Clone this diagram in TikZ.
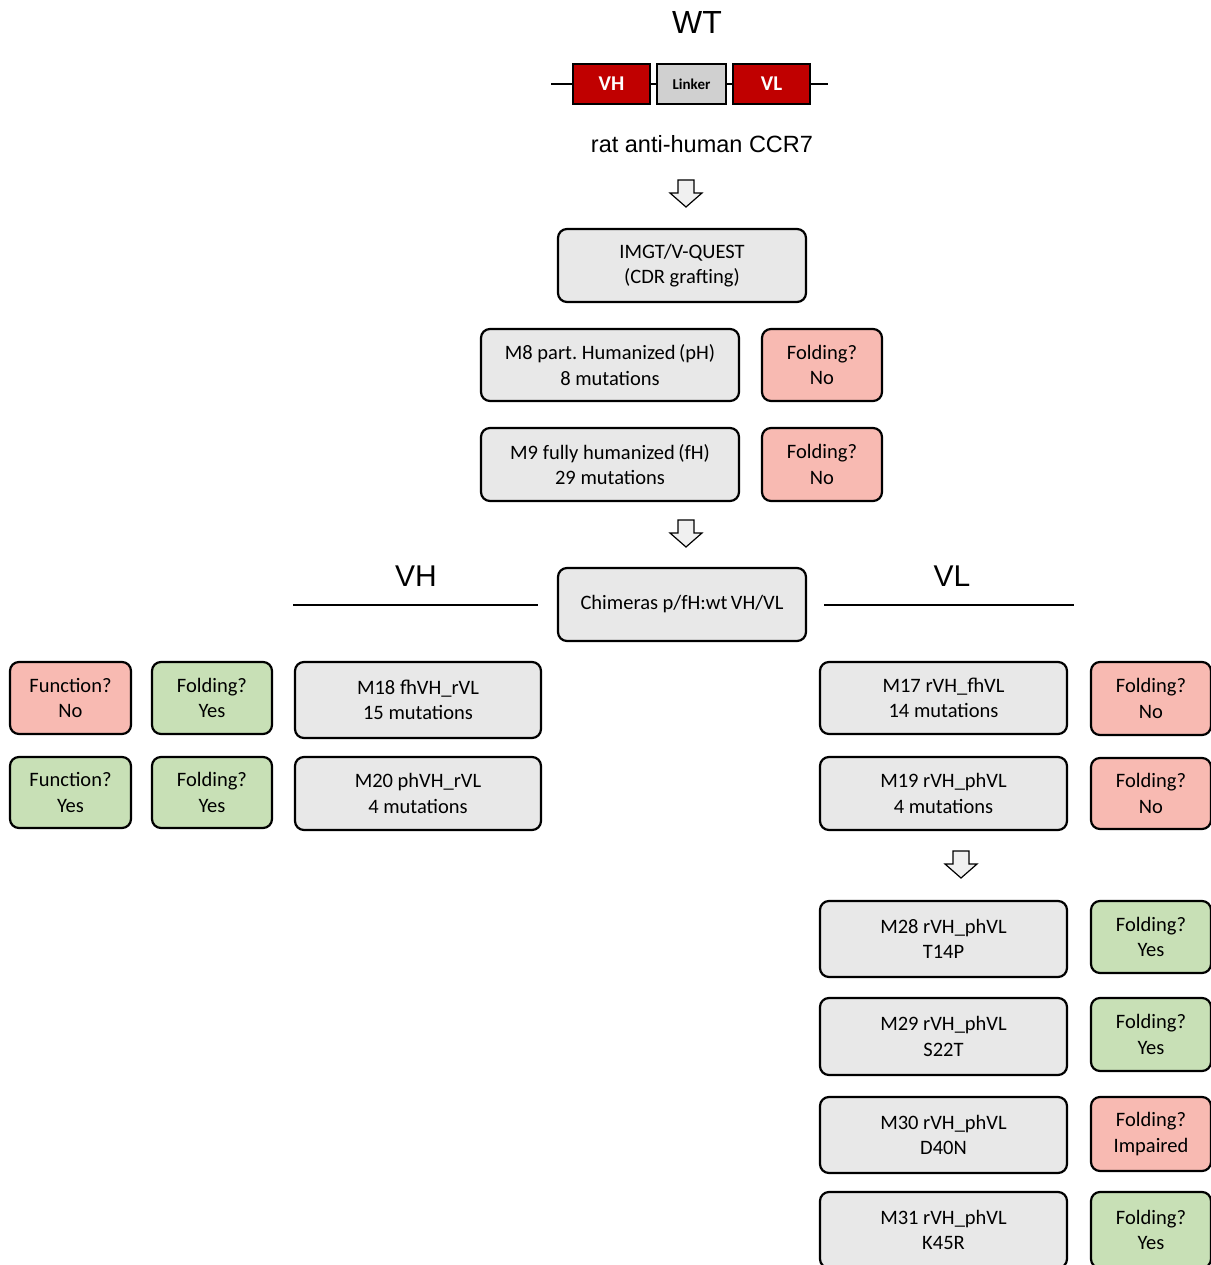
\documentclass[tikz,border=0pt]{standalone}
\usepackage{fontspec}
\setmainfont{Carlito}
\newfontfamily\arialf{Liberation Sans}
\definecolor{boxgray}{HTML}{E8E8E8}
\definecolor{pinkf}{HTML}{F8BAB2}
\definecolor{greenf}{HTML}{C8E0B6}
\definecolor{darkred}{HTML}{C00000}
\definecolor{linkgray}{HTML}{D0D0D0}
\frenchspacing
\begin{document}
\begin{tikzpicture}[x=1pt,y=-1pt,
  box/.style={draw, line width=2.2pt, rounded corners=9pt, fill=boxgray, align=center,
    font=\fontsize{20.5}{25.5}\selectfont, inner sep=0pt},
  pinkbox/.style={box, fill=pinkf, minimum width=120pt},
  greenbox/.style={box, fill=greenf, minimum width=120pt},
  seg/.style={draw, line width=1.5pt, inner sep=0pt, minimum height=40pt},
  title/.style={font=\arialf\fontsize{32}{36}\selectfont, inner sep=0pt},
  blockarrow/.style={draw, line width=1.2pt, fill=white!94!black, line join=miter},
  hline/.style={line width=2pt}
]
\useasboundingbox (0,0) rectangle (1210,1265);

% WT construct
\node[title] (wt) at (697,22) {WT};
\node[seg, fill=darkred, minimum width=77pt, text=white, font=\fontsize{21}{24}\selectfont\bfseries] (vh) at (611.5,84) {VH};
\node[seg, fill=linkgray, minimum width=69pt, font=\fontsize{15}{16}\selectfont\bfseries] (linker) at (691.5,84) {Linker};
\node[seg, fill=darkred, minimum width=77pt, text=white, font=\fontsize{21}{24}\selectfont\bfseries] (vl) at (771.5,84) {VL};
\coordinate (cl) at (551,84);
\coordinate (cr) at (828,84);
\draw[line width=1.5pt] (cl) -- (vh.west) (vh.east) -- (linker.west) (linker.east) -- (vl.west) (vl.east) -- (cr);
\node[font=\arialf\fontsize{23.5}{26}\selectfont, inner sep=0pt] (rat) at (702,144) {rat anti-human CCR7};

% block arrows
\foreach \cx/\t in {686/180, 686/520, 961/851}{
  \path[blockarrow] (\cx-8,\t) -- (\cx+8,\t) -- (\cx+8,\t+13) -- (\cx+16,\t+13) -- (\cx,\t+27) -- (\cx-16,\t+13) -- (\cx-8,\t+13) -- cycle;
}

% central column
\node[box, minimum width=248pt, minimum height=73pt] (imgt) at (682,265.5) {IMGT/V-QUEST\\(CDR grafting)};
\node[box, minimum width=258pt, minimum height=72pt] (m8) at (610,365) {M8 part. Humanized\,(pH)\\8 mutations};
\node[pinkbox, minimum height=72pt] (f8) at (822,365) {Folding?\\No};
\node[box, minimum width=258pt, minimum height=73pt] (m9) at (610,464.5) {M9 fully humanized\,(fH)\\29 mutations};
\node[pinkbox, minimum height=73pt] (f9) at (822,464.5) {Folding?\\No};
\node[box, minimum width=248pt, minimum height=73pt] (chim) at (682,604.5) {Chimeras p/fH:wt\,VH/VL};

% VH / VL headings
\node[title, font=\arialf\fontsize{30}{34}\selectfont] (vhlab) at (416,576) {VH};
\node[title, font=\arialf\fontsize{30}{34}\selectfont] (vllab) at (952,576) {VL};
\coordinate (vha) at (293,605); \coordinate (vhb) at (538,605);
\coordinate (vla) at (824,605); \coordinate (vlb) at (1074,605);
\draw[hline] (vha) -- (vhb);
\draw[hline] (vla) -- (vlb);

% VH side
\node[box, fill=pinkf, minimum width=121pt, minimum height=72pt] (fn1) at (70.5,698) {Function?\\No};
\node[greenbox, minimum height=72pt] (fo1) at (212,698) {Folding?\\Yes};
\node[box, minimum width=246pt, minimum height=76pt] (m18) at (418,700) {M18 fhVH\_rVL\\15 mutations};
\node[box, fill=greenf, minimum width=121pt, minimum height=71pt] (fn2) at (70.5,792.5) {Function?\\Yes};
\node[greenbox, minimum height=71pt] (fo2) at (212,792.5) {Folding?\\Yes};
\node[box, minimum width=246pt, minimum height=73pt] (m20) at (418,793.5) {M20 phVH\_rVL\\4 mutations};

% VL side
\node[box, minimum width=247pt, minimum height=72pt] (m17) at (943.5,698) {M17 rVH\_fhVL\\14 mutations};
\node[pinkbox, minimum height=73pt] (f17) at (1151,698.5) {Folding?\\No};
\node[box, minimum width=247pt, minimum height=73pt] (m19) at (943.5,793.5) {M19 rVH\_phVL\\4 mutations};
\node[pinkbox, minimum height=71pt] (f19) at (1151,793.5) {Folding?\\No};
\node[box, minimum width=247pt, minimum height=76pt] (m28) at (943.5,939) {M28 rVH\_phVL\\T14P};
\node[greenbox, minimum height=72pt] (f28) at (1151,937) {Folding?\\Yes};
\node[box, minimum width=247pt, minimum height=77pt] (m29) at (943.5,1036.5) {M29 rVH\_phVL\\S22T};
\node[greenbox, minimum height=73pt] (f29) at (1151,1034.5) {Folding?\\Yes};
\node[box, minimum width=247pt, minimum height=76pt] (m30) at (943.5,1135) {M30 rVH\_phVL\\D40N};
\node[pinkbox, minimum height=74pt] (f30) at (1151,1134) {Folding?\\Impaired};
\node[box, minimum width=247pt, minimum height=76pt] (m31) at (943.5,1230) {M31 rVH\_phVL\\K45R};
\node[greenbox, minimum height=76pt] (f31) at (1151,1230) {Folding?\\Yes};
\end{tikzpicture}
\end{document}
